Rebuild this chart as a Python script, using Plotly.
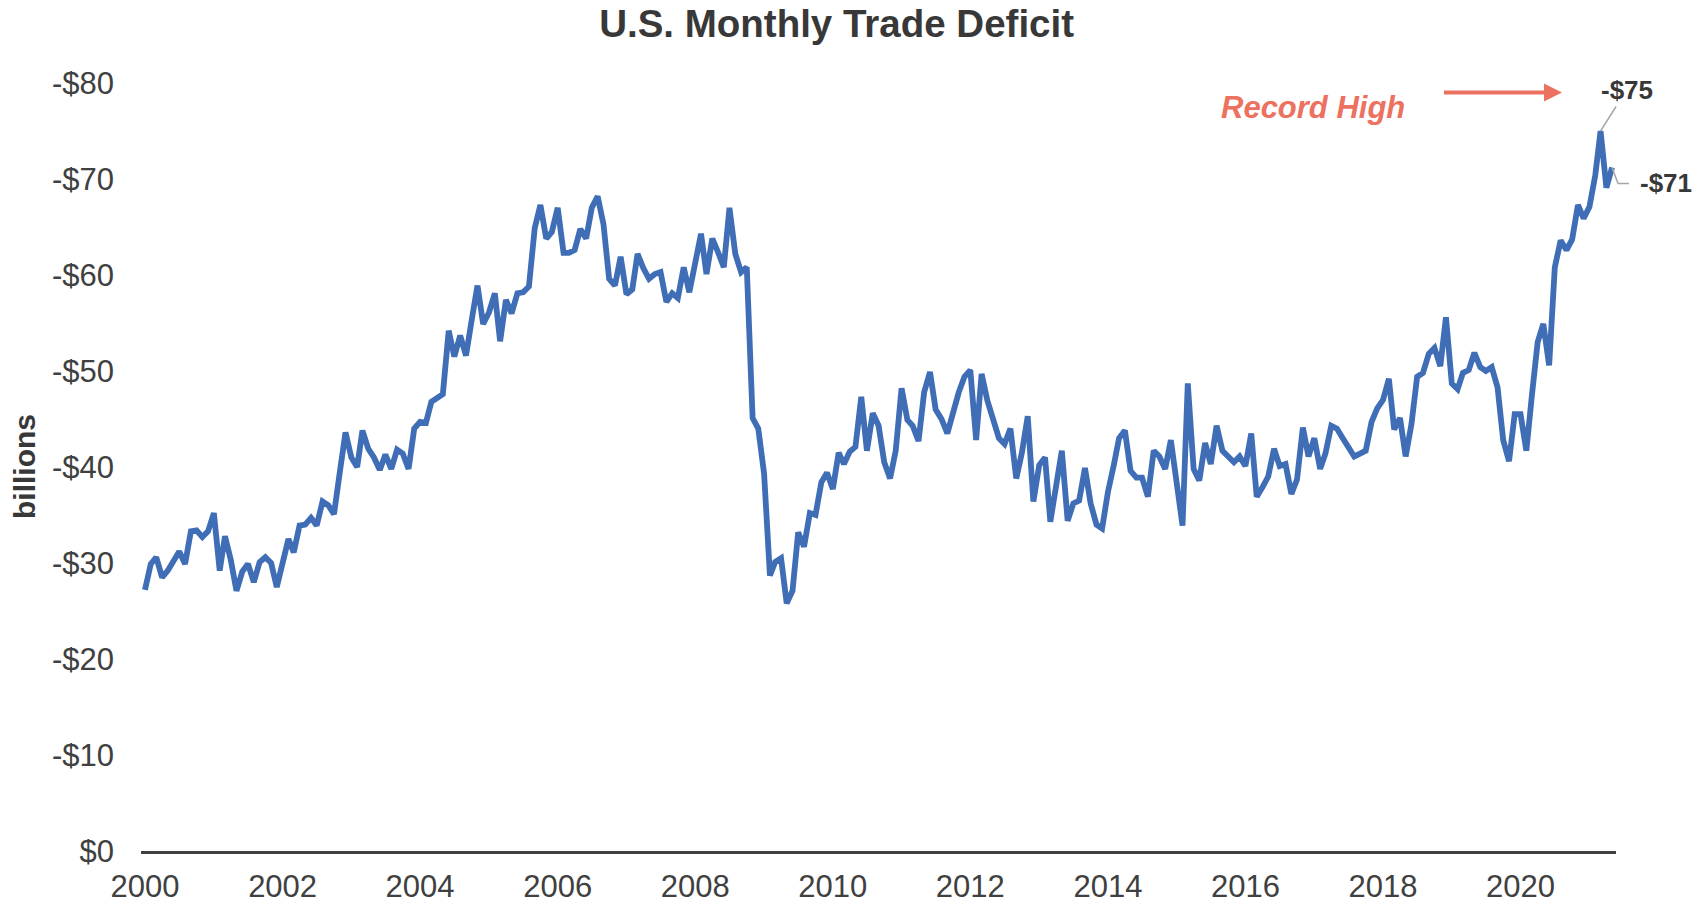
import pandas as pd
import plotly.graph_objects as go

# Monthly U.S. trade balance (goods & services), billions of dollars, shown as deficits
deficit_2000 = [27.2, 29.9, 30.6, 28.5, 29.2, 30.3, 31.2, 29.9, 33.3, 33.4, 32.7, 33.3]
deficit_2001 = [35.2, 29.2, 32.8, 30.3, 27.1, 29.1, 29.9, 28.0, 30.1, 30.6, 30.0, 27.5]
deficit_2002 = [29.9, 32.5, 31.1, 33.9, 34.0, 34.7, 33.9, 36.4, 36.0, 35.1, 39.5, 43.6]
deficit_2003 = [41.0, 40.0, 43.8, 41.9, 41.0, 39.7, 41.3, 39.8, 41.8, 41.4, 39.8, 44.0]
deficit_2004 = [44.7, 44.6, 46.8, 47.3, 47.6, 54.2, 51.5, 53.7, 51.6, 55.3, 58.9, 54.9]
deficit_2005 = [56.1, 58.1, 53.1, 57.4, 56.0, 58.1, 58.2, 58.8, 64.9, 67.3, 63.8, 64.5]
deficit_2006 = [67.0, 62.3, 62.3, 62.6, 64.8, 63.8, 67.0, 68.2, 65.3, 59.6, 58.9, 61.9]
deficit_2007 = [58.0, 58.5, 62.2, 60.7, 59.6, 60.1, 60.3, 57.2, 58.1, 57.6, 60.8, 58.2]
deficit_2008 = [61.4, 64.3, 60.1, 63.8, 62.4, 60.8, 67.0, 62.2, 60.3, 60.8, 45.1, 44.0]
deficit_2009 = [39.3, 28.7, 30.1, 30.5, 25.8, 27.1, 33.2, 31.7, 35.2, 35.0, 38.4, 39.4]
deficit_2010 = [37.7, 41.5, 40.3, 41.6, 42.1, 47.3, 41.7, 45.6, 44.3, 40.5, 38.8, 41.7]
deficit_2011 = [48.2, 44.9, 44.3, 42.7, 47.8, 49.9, 46.0, 45.0, 43.5, 45.7, 47.8, 49.4]
deficit_2012 = [50.1, 42.8, 49.7, 46.9, 45.1, 43.0, 42.4, 44.0, 38.8, 41.5, 45.3, 36.4]
deficit_2013 = [40.2, 41.0, 34.3, 37.9, 41.7, 34.4, 36.2, 36.5, 39.9, 36.2, 34.0, 33.6]
deficit_2014 = [37.4, 40.2, 43.0, 43.8, 39.6, 38.9, 38.9, 36.9, 41.7, 41.1, 39.8, 42.8]
deficit_2015 = [38.8, 33.9, 48.7, 39.8, 38.6, 42.5, 40.3, 44.3, 41.7, 41.0, 40.5, 41.1]
deficit_2016 = [40.1, 43.5, 36.9, 37.9, 39.0, 41.9, 40.1, 40.3, 37.2, 38.7, 44.1, 41.1]
deficit_2017 = [43.0, 39.8, 41.4, 44.3, 44.0, 43.0, 42.0, 41.1, 41.4, 41.7, 44.7, 46.1]
deficit_2018 = [47.0, 49.2, 43.9, 45.1, 41.1, 44.5, 49.4, 49.8, 51.8, 52.4, 50.5, 55.6]
deficit_2019 = [48.7, 48.1, 49.8, 50.1, 51.9, 50.4, 50.0, 50.4, 48.3, 42.8, 40.6, 45.5]
deficit_2020 = [45.5, 41.7, 47.4, 53.0, 54.9, 50.6, 60.8, 63.6, 62.6, 63.7, 67.3, 65.9]
deficit_2021 = [67.1, 70.4, 75.0, 69.1, 71.2]

deficits = (deficit_2000 + deficit_2001 + deficit_2002 + deficit_2003 + deficit_2004
            + deficit_2005 + deficit_2006 + deficit_2007 + deficit_2008 + deficit_2009
            + deficit_2010 + deficit_2011 + deficit_2012 + deficit_2013 + deficit_2014
            + deficit_2015 + deficit_2016 + deficit_2017 + deficit_2018 + deficit_2019
            + deficit_2020 + deficit_2021)
months = pd.date_range("2000-01-01", periods=len(deficits), freq="MS")

year_ticks = list(range(2000, 2021, 2))
y_ticks = list(range(0, 81, 10))
y_tick_text = ["$0" if v == 0 else f"-${v}" for v in y_ticks]

# figure geometry
W, H = 1708, 905
M_L, M_R, M_T, M_B = 141, 92, 35, 54
PLOT_W, PLOT_H = W - M_L - M_R, H - M_T - M_B
X_RANGE = [pd.Timestamp("1999-12-11"), pd.Timestamp("2021-05-22")]
Y_RANGE = [0, 85]

BLUE = "#3F6DB6"
SALMON = "#EC7160"
TEXT = "#383838"
LEADER = "#A6A6A6"
FONT = "Liberation Sans, Arial, sans-serif"


def x_paper(ts):
    return (ts - X_RANGE[0]) / (X_RANGE[1] - X_RANGE[0])


def y_paper(v):
    return (v - Y_RANGE[0]) / (Y_RANGE[1] - Y_RANGE[0])


fig = go.Figure()
fig.add_trace(go.Scatter(
    x=months, y=deficits, mode="lines",
    line=dict(color=BLUE, width=5.8),
    hoverinfo="skip", showlegend=False,
))

# record high and latest month
i_peak = max(range(len(deficits)), key=lambda i: deficits[i])
i_last = len(deficits) - 1
peak_val, last_val = deficits[i_peak], deficits[i_last]

annotations = [
    dict(x=months[i_peak], y=peak_val, xref="x", yref="y",
         text=f"<b>-${round(peak_val)}</b>", showarrow=True, arrowhead=0,
         arrowwidth=1.5, arrowcolor=LEADER, ax=26, ay=-41, standoff=0,
         font=dict(family=FONT, size=26, color=TEXT)),
    dict(x=months[i_last], y=last_val, xref="x", yref="y",
         text=f"<b>-${round(last_val)}</b>", showarrow=False,
         xanchor="left", yanchor="middle", xshift=26, yshift=-16,
         font=dict(family=FONT, size=26, color=TEXT)),
    dict(x=(1313 - M_L) / PLOT_W, y=(H - M_B - 107) / PLOT_H, xref="paper", yref="paper",
         xanchor="center", yanchor="middle",
         text="<b><i>Record High</i></b>", showarrow=False,
         font=dict(family=FONT, size=31, color=SALMON)),
    dict(x=(1562 - M_L) / PLOT_W, y=(H - M_B - 92.6) / PLOT_H, xref="paper", yref="paper",
         text=" ", showarrow=True, arrowhead=2, arrowsize=0.9, arrowwidth=4,
         arrowcolor=SALMON, ax=-120, ay=0, standoff=0,
         font=dict(family=FONT, size=4)),
    dict(x=(24 - M_L) / PLOT_W, y=40, xref="paper", yref="y", text="<b>billions</b>",
         xanchor="center", yanchor="middle", textangle=-90, showarrow=False,
         font=dict(family=FONT, size=30, color=TEXT)),
]

# elbow leader for the latest value
lx0, ly0 = x_paper(months[i_last]), y_paper(last_val)
lx1, ly1 = lx0 + 6 / PLOT_W, ly0 - 16 / PLOT_H
lx2 = lx1 + 11 / PLOT_W
shapes = [dict(type="path", xref="paper", yref="paper",
               path=f"M{lx0},{ly0} L{lx1},{ly1} L{lx2},{ly1}",
               line=dict(color=LEADER, width=1.5))]

fig.update_layout(
    width=W, height=H,
    margin=dict(l=M_L, r=M_R, t=M_T, b=M_B, pad=0),
    paper_bgcolor="white", plot_bgcolor="white",
    font=dict(family=FONT, color=TEXT),
    title=dict(text="<b>U.S. Monthly Trade Deficit</b>", x=836.6 / W, xref="container",
               xanchor="center", y=1 - 24 / H, yref="container", yanchor="middle",
               font=dict(family=FONT, size=38.5, color=TEXT)),
    xaxis=dict(range=X_RANGE, type="date", showgrid=False, zeroline=False,
               showline=True, linecolor="#404040", linewidth=3,
               tickvals=[pd.Timestamp(f"{y}-01-01") for y in year_ticks],
               ticktext=[str(y) for y in year_ticks], ticks="",
               ticklabelstandoff=6, automargin=False,
               tickfont=dict(family=FONT, size=31, color="#404040")),
    yaxis=dict(range=Y_RANGE, showgrid=False, zeroline=False, showline=False,
               tickvals=y_ticks, ticktext=y_tick_text, ticks="",
               ticklabelstandoff=26, automargin=False,
               tickfont=dict(family=FONT, size=31, color="#404040")),
    annotations=annotations,
    shapes=shapes,
)

fig.write_html("out.html")
